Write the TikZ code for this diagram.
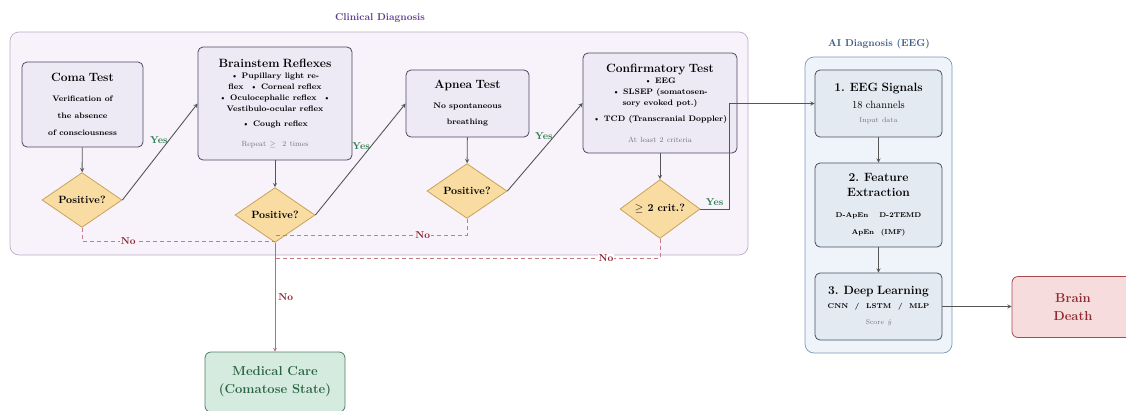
\documentclass[tikz,border=0pt]{standalone}
\usepackage{amssymb}
\usetikzlibrary{shapes.geometric}

\definecolor{clinfill}{HTML}{F8F3FA}
\definecolor{clindraw}{HTML}{B9AEC4}
\definecolor{clintext}{HTML}{5B3A8E}
\definecolor{stepfill}{HTML}{EDE9F5}
\definecolor{stepdraw}{HTML}{4D4862}
\definecolor{askfill}{HTML}{F8DCA2}
\definecolor{askdraw}{HTML}{C9A259}
\definecolor{aifill}{HTML}{EFF4FA}
\definecolor{aidraw}{HTML}{7C97B8}
\definecolor{aitext}{HTML}{3C5A88}
\definecolor{eegfill}{HTML}{E4EAF2}
\definecolor{eegdraw}{HTML}{435264}
\definecolor{deathfill}{HTML}{F6DCDD}
\definecolor{deathdraw}{HTML}{A8494E}
\definecolor{deathtext}{HTML}{8E2A30}
\definecolor{carefill}{HTML}{D6EBE0}
\definecolor{caredraw}{HTML}{4F7C64}
\definecolor{caretext}{HTML}{2A6442}
\definecolor{yestext}{HTML}{2F7D50}
\definecolor{notext}{HTML}{8E2430}
\definecolor{noline}{HTML}{C97A88}
\definecolor{flowline}{HTML}{555555}
\definecolor{notegray}{HTML}{77737E}

\newcommand{\boxtitle}{\fontsize{12}{15}\selectfont\bfseries}
\newcommand{\boxbody}{\fontsize{8}{11}\selectfont\bfseries}
\newcommand{\boxnote}{\fontsize{7.5}{9}\selectfont\color{notegray}}

\begin{document}
\begin{tikzpicture}[x = 1pt, y = -1pt,
        frametitle/.style = {font = \fontsize{10}{12}\selectfont\bfseries},
        clinframe/.style = {draw = clindraw, fill = clinfill, line width = 0.7pt, rounded corners = 9pt},
        aiframe/.style = {draw = aidraw, fill = aifill, line width = 0.7pt, rounded corners = 9pt},
        stepbox/.style = {draw = stepdraw, fill = stepfill, line width = 0.8pt, rounded corners = 5pt,
            align = center, inner xsep = 5pt, inner ysep = 0pt},
        askbox/.style = {diamond, draw = askdraw, fill = askfill, line width = 0.8pt,
            minimum width = 80pt, minimum height = 52pt, inner sep = 0pt,
            font = \fontsize{10.5}{12}\selectfont\bfseries},
        aibox/.style = {draw = eegdraw, fill = eegfill, line width = 0.8pt, rounded corners = 5pt,
            align = center, minimum width = 127pt, text width = 117pt, inner xsep = 5pt, inner ysep = 0pt},
        endbox/.style = {line width = 0.8pt, rounded corners = 6pt, align = center,
            font = \fontsize{13}{18}\selectfont\bfseries},
        flow/.style = {draw = flowline, line width = 0.9pt, -stealth},
        noflow/.style = {draw = noline, line width = 0.7pt, dash pattern = on 4pt off 3pt},
        noarrow/.style = {draw = deathdraw!80, line width = 0.7pt, -stealth},
        yeslabel/.style = {text = yestext, font = \fontsize{10}{12}\selectfont\bfseries, inner sep = 1pt},
        nolabel/.style = {text = notext, font = \fontsize{10}{12}\selectfont\bfseries, inner sep = 1pt}]

    \useasboundingbox (0, 0) rectangle (1126, 410);

    % frames
    \draw [clinframe] (10, 32) rectangle (748, 255);
    \node [frametitle, text = clintext] (clintitle) at (380, 18) {Clinical Diagnosis};
    \draw [aiframe] (805, 57) rectangle (952, 353);
    \node [frametitle, text = aitext] (aititle) at (879, 44) {AI Diagnosis (EEG)};

    % clinical steps
    \node [stepbox, minimum width = 121pt, minimum height = 85pt, text width = 111pt] (coma) at (82.5, 104.5) {
        {\boxtitle Coma Test\par}\vspace{3pt}
        {\fontsize{8}{17}\selectfont\bfseries Verification of\\ the absence\\ of consciousness\par}};
    \node [stepbox, minimum width = 154pt, minimum height = 113pt, text width = 144pt] (brain) at (275, 103.5) {
        {\boxtitle Brainstem Reflexes\par}
        {\boxbody \textbullet\ Pupillary light re-\\ flex \ \textbullet\ Corneal reflex\\
            \textbullet\ Oculocephalic reflex \ \textbullet\\ Vestibulo-ocular reflex\par}\vspace{4pt}
        {\boxbody \textbullet\ Cough reflex\par}\vspace{11pt}
        {\boxnote Repeat $\geq$\ \ 2 times\par}};
    \node [stepbox, minimum width = 123pt, minimum height = 67pt, text width = 113pt] (apnea) at (467.5, 103.5) {
        {\boxtitle Apnea Test\par}\vspace{4pt}
        {\fontsize{8}{16}\selectfont\bfseries No spontaneous\\ breathing\par}};
    \node [stepbox, minimum width = 154pt, minimum height = 100pt, text width = 144pt] (confirm) at (660, 103) {
        {\boxtitle Confirmatory Test\par}
        {\boxbody \textbullet\ EEG\\ \textbullet\ SLSEP (somatosen-\\ sory evoked pot.)\par}\vspace{5pt}
        {\boxbody \textbullet\ TCD (Transcranial Doppler)\par}\vspace{12pt}
        {\boxnote At least 2 criteria\par}};

    % decisions
    \node [askbox] (ask1) at (82, 200) {Positive?};
    \node [askbox] (ask2) at (275, 215) {Positive?};
    \node [askbox] (ask3) at (467, 191) {Positive?};
    \node [askbox] (ask4) at (660, 209) {$\geq$ 2 crit.?};

    % AI pipeline
    \node [aibox, minimum height = 67pt] (eeg) at (878.5, 103.5) {
        {\boxtitle 1. EEG Signals\par}\vspace{2pt}
        {\fontsize{10.5}{15}\selectfont 18 channels\par}\vspace{5pt}
        {\fontsize{7}{9}\selectfont\color{notegray} Input data\par}};
    \node [aibox, minimum height = 84pt] (feature) at (878.5, 205) {
        {\boxtitle 2. Feature\\ Extraction\par}\vspace{4pt}
        {\fontsize{7}{17}\selectfont\bfseries D-ApEn\hspace{11pt}D-2TEMD\\ ApEn\ \ (IMF)\par}};
    \node [aibox, minimum height = 67pt] (deep) at (878.5, 306.5) {
        {\boxtitle 3. Deep Learning\par}\vspace{5pt}
        {\fontsize{7}{9}\selectfont\bfseries CNN \ / \ LSTM \ / \ MLP\par}\vspace{7pt}
        {\fontsize{7}{9}\selectfont\color{notegray} Score {\itshape ŷ}\par}};

    % outcomes
    \node [endbox, draw = deathdraw, fill = deathfill, text = deathtext,
        minimum width = 122pt, minimum height = 61pt] (death) at (1073, 307) {Brain\\ Death};
    \node [endbox, draw = caredraw, fill = carefill, text = caretext,
        minimum width = 140pt, minimum height = 60pt] (care) at (275, 382) {Medical Care\\ (Comatose State)};

    % yes path
    \draw [flow] (coma) -- (ask1);
    \draw [flow] (brain) -- (ask2);
    \draw [flow] (apnea) -- (ask3);
    \draw [flow] (confirm) -- (ask4);
    \draw [flow] (ask1.east) -- node [yeslabel, pos = 0.62, anchor = east] {Yes} (brain.west);
    \draw [flow] (ask2.east) -- node [yeslabel, pos = 0.62, anchor = east] {Yes} (apnea.west);
    \draw [flow] (ask3.east) -- node [yeslabel, pos = 0.62, anchor = east] {Yes} (confirm.west);
    \coordinate (bend) at (729, 150);
    \draw [flow] (ask4.east) -| node [yeslabel, pos = 0.25, above = 2pt] {Yes} (bend) |- (eeg.west);
    \draw [flow] (eeg) -- (feature);
    \draw [flow] (feature) -- (deep);
    \draw [flow] (deep.east) -- (death.west |- deep.east);

    % no path
    \coordinate (join1) at (275, 241);
    \coordinate (join3) at (275, 235);
    \coordinate (join4) at (275, 258);
    \draw [noflow] (ask1.south) |- node [nolabel, pos = 0.62, fill = clinfill] {No} (join1);
    \draw [noflow] (ask3.south) |- node [nolabel, pos = 0.615, fill = clinfill] {No} (join3);
    \draw [noflow] (ask4.south) |- node [nolabel, pos = 0.57, fill = white] {No} (join4);
    \draw [noarrow] (ask2.south) -- node [nolabel, right = 2pt] {No} (care.north);
\end{tikzpicture}
\end{document}
